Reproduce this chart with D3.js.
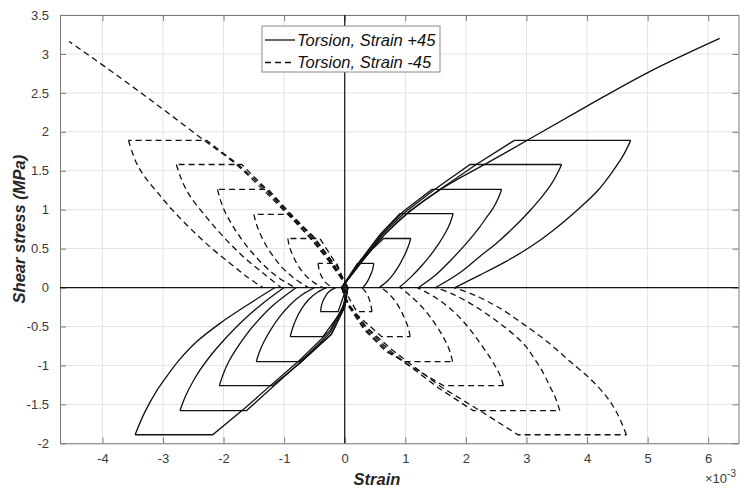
<!DOCTYPE html>
<html>
<head>
<meta charset="utf-8">
<script src="https://cdn.jsdelivr.net/npm/d3@7"></script>
<style>
  body { margin: 0; background: #fff; }
  svg { display: block; font-family: "Liberation Sans", Arial, Helvetica, sans-serif; }
</style>
</head>
<body>
<div id="chart"></div>
<script>
// strain in units of 1e-3, shear stress in MPa
const xTicks = [-4, -3, -2, -1, 0, 1, 2, 3, 4, 5, 6];
const yTicks = [-2, -1.5, -1, -0.5, 0, 0.5, 1, 1.5, 2, 2.5, 3, 3.5];
const seriesNames = ["Torsion, Strain +45", "Torsion, Strain -45"];

// ---- Torsion, Strain +45 (solid) ----
// loading from zero up to the plateau (positive stress)
const p45PosLoad = [
  [[-0.05, 0], [0.21, 0.31]],
  [[-0.05, 0], [0.26, 0.35], [0.64, 0.63]],
  [[-0.05, 0], [0.27, 0.36], [0.58, 0.68], [0.91, 0.95]],
  [[-0.05, 0], [0.28, 0.36], [0.6, 0.68], [0.97, 0.98], [1.44, 1.26]],
  [[-0.05, 0], [0.3, 0.36], [0.62, 0.68], [1.0, 0.97], [1.5, 1.27], [2.07, 1.58]],
  [[-0.05, 0], [0.3, 0.35], [0.65, 0.68], [1.05, 0.97], [1.57, 1.26], [2.17, 1.58], [2.8, 1.89]]
];
// end of plateau then unloading back to zero stress
const p45PosUnload = [
  [[0.48, 0.31], [0.46, 0.23], [0.42, 0.15], [0.37, 0.07], [0.3, 0]],
  [[1.09, 0.63], [1.05, 0.53], [0.99, 0.42], [0.91, 0.3], [0.81, 0.18], [0.7, 0.08], [0.57, 0]],
  [[1.79, 0.95], [1.74, 0.83], [1.66, 0.7], [1.55, 0.56], [1.42, 0.42], [1.27, 0.28], [1.1, 0.14], [0.9, 0]],
  [[2.59, 1.26], [2.53, 1.14], [2.45, 1.02], [2.34, 0.9], [2.23, 0.78], [2.0, 0.56], [1.75, 0.35], [1.5, 0.16], [1.22, 0]],
  [[3.58, 1.58], [3.52, 1.48], [3.42, 1.34], [3.26, 1.17], [3.06, 0.99], [2.8, 0.78], [2.52, 0.58], [2.23, 0.4], [1.9, 0.19], [1.5, 0]],
  [[4.72, 1.89], [4.6, 1.7], [4.43, 1.5], [4.17, 1.24], [3.83, 0.99], [3.45, 0.74], [3.06, 0.52], [2.65, 0.33], [2.23, 0.16], [1.82, 0]]
];
const p45NegLoad = [
  [[0.03, 0], [-0.11, -0.31]],
  [[0.05, 0], [-0.05, -0.3], [-0.36, -0.63]],
  [[0.05, 0], [0, -0.25], [-0.22, -0.6], [-0.74, -0.95]],
  [[0.05, 0], [0, -0.24], [-0.22, -0.6], [-0.72, -0.96], [-1.2, -1.26]],
  [[0.05, 0], [0, -0.22], [-0.24, -0.58], [-0.72, -0.95], [-1.18, -1.27], [-1.62, -1.58]],
  [[0.05, 0], [0, -0.2], [-0.24, -0.55], [-0.74, -0.93], [-1.2, -1.24], [-1.65, -1.55], [-2.18, -1.89]]
];
const p45NegUnload = [
  [[-0.4, -0.31], [-0.38, -0.22], [-0.34, -0.14], [-0.27, -0.06], [-0.15, 0]],
  [[-0.9, -0.63], [-0.86, -0.52], [-0.8, -0.4], [-0.71, -0.27], [-0.59, -0.15], [-0.45, -0.06], [-0.3, 0]],
  [[-1.46, -0.95], [-1.41, -0.83], [-1.33, -0.69], [-1.22, -0.54], [-1.08, -0.38], [-0.9, -0.22], [-0.7, -0.09], [-0.5, 0]],
  [[-2.07, -1.26], [-2.0, -1.1], [-1.92, -0.96], [-1.8, -0.8], [-1.62, -0.6], [-1.45, -0.44], [-1.2, -0.24], [-0.8, 0]],
  [[-2.72, -1.58], [-2.62, -1.38], [-2.5, -1.2], [-2.39, -1.06], [-2.2, -0.86], [-2.0, -0.68], [-1.7, -0.44], [-1.38, -0.22], [-1.0, 0]],
  [[-3.46, -1.89], [-3.3, -1.6], [-3.1, -1.32], [-2.9, -1.1], [-2.72, -0.92], [-2.45, -0.7], [-2.06, -0.46], [-1.6, -0.22], [-1.15, 0]]
];
const p45Final = [[-0.05, 0], [0.3, 0.35], [0.66, 0.68], [1.08, 0.98], [1.62, 1.28], [2.4, 1.62],
  [3.1, 1.93], [4.0, 2.33], [5.05, 2.78], [6.19, 3.2]];

// ---- Torsion, Strain -45 (dashed) ----
const m45PosLoad = [
  [[0.03, 0], [-0.13, 0.31]],
  [[0.05, 0], [-0.18, 0.35], [-0.41, 0.63]],
  [[0.05, 0], [-0.22, 0.35], [-0.52, 0.66], [-0.91, 0.94]],
  [[0.05, 0], [-0.23, 0.35], [-0.54, 0.67], [-0.91, 0.96], [-1.26, 1.26]],
  [[0.05, 0], [-0.24, 0.34], [-0.56, 0.66], [-0.92, 0.96], [-1.3, 1.27], [-1.7, 1.58]],
  [[0.05, 0], [-0.25, 0.33], [-0.58, 0.65], [-0.95, 0.96], [-1.32, 1.27], [-1.76, 1.58], [-2.28, 1.89]]
];
const m45PosUnload = [
  [[-0.44, 0.31], [-0.42, 0.22], [-0.38, 0.14], [-0.31, 0.06], [-0.2, 0]],
  [[-0.94, 0.63], [-0.91, 0.52], [-0.85, 0.4], [-0.76, 0.27], [-0.64, 0.15], [-0.5, 0.06], [-0.36, 0]],
  [[-1.5, 0.94], [-1.46, 0.82], [-1.39, 0.68], [-1.29, 0.53], [-1.16, 0.38], [-1.0, 0.23], [-0.8, 0.1], [-0.6, 0]],
  [[-2.1, 1.26], [-2.05, 1.12], [-1.98, 0.98], [-1.87, 0.82], [-1.72, 0.64], [-1.53, 0.45], [-1.3, 0.26], [-1.08, 0.12], [-0.82, 0]],
  [[-2.78, 1.58], [-2.72, 1.44], [-2.65, 1.31], [-2.55, 1.17], [-2.3, 0.92], [-2.0, 0.65], [-1.68, 0.4], [-1.34, 0.18], [-1.05, 0]],
  [[-3.57, 1.89], [-3.45, 1.62], [-3.3, 1.42], [-3.1, 1.23], [-2.85, 1.0], [-2.55, 0.76], [-2.22, 0.52], [-1.89, 0.31], [-1.6, 0.13], [-1.35, 0]]
];
const m45NegLoad = [
  [[-0.03, 0], [0.2, -0.31]],
  [[-0.05, 0], [0.1, -0.28], [0.61, -0.63]],
  [[-0.05, 0], [0.05, -0.22], [0.32, -0.54], [0.68, -0.82], [0.99, -0.95]],
  [[-0.05, 0], [0.05, -0.22], [0.33, -0.53], [0.7, -0.81], [1.02, -0.98], [1.63, -1.26]],
  [[-0.05, 0], [0.05, -0.21], [0.35, -0.52], [0.73, -0.8], [1.04, -0.99], [1.55, -1.29], [2.12, -1.58]],
  [[-0.05, 0], [0.05, -0.2], [0.35, -0.5], [0.75, -0.78], [1.08, -0.98], [1.6, -1.28], [2.23, -1.58], [2.86, -1.89]]
];
const m45NegUnload = [
  [[0.45, -0.31], [0.43, -0.22], [0.4, -0.14], [0.35, -0.06], [0.28, 0]],
  [[1.08, -0.63], [1.05, -0.52], [0.99, -0.4], [0.91, -0.27], [0.81, -0.15], [0.7, -0.06], [0.6, 0]],
  [[1.78, -0.95], [1.74, -0.83], [1.67, -0.7], [1.57, -0.56], [1.44, -0.41], [1.3, -0.27], [1.12, -0.13], [0.92, 0]],
  [[2.62, -1.26], [2.57, -1.14], [2.5, -1.03], [2.4, -0.9], [2.24, -0.72], [2.05, -0.52], [1.8, -0.31], [1.5, -0.13], [1.2, 0]],
  [[3.55, -1.58], [3.48, -1.42], [3.38, -1.26], [3.28, -1.1], [3.12, -0.9], [2.95, -0.72], [2.56, -0.46], [2.15, -0.24], [1.8, -0.09], [1.5, 0]],
  [[4.65, -1.89], [4.55, -1.7], [4.45, -1.55], [4.32, -1.4], [4.05, -1.17], [3.72, -0.95], [3.35, -0.7], [2.95, -0.47], [2.55, -0.26], [2.15, -0.1], [1.8, 0]]
];
const m45Final = [[0.05, 0], [-0.26, 0.34], [-0.6, 0.66], [-0.98, 0.97], [-1.38, 1.28], [-1.82, 1.6],
  [-2.32, 1.89], [-3.0, 2.29], [-3.75, 2.72], [-4.55, 3.16]];

const W = 740, H = 489;
const margin = {top: 15, right: 1.5, bottom: 45.7, left: 60};
const width = W - margin.left - margin.right,
    height = H - margin.top - margin.bottom;

const x = d3.scaleLinear().domain([-4.7, 6.5]).range([0, width]);
const y = d3.scaleLinear().domain([-2, 3.5]).range([height, 0]);

const svg = d3.select("#chart").append("svg")
    .attr("width", W)
    .attr("height", H);

const g = svg.append("g")
    .attr("transform", "translate(" + margin.left + "," + margin.top + ")");

// grid
g.append("g").selectAll("line").data(xTicks).enter().append("line")
    .attr("x1", d => x(d)).attr("x2", d => x(d))
    .attr("y1", 0).attr("y2", height)
    .attr("stroke", "#e3e3e3").attr("stroke-width", 1);
g.append("g").selectAll("line").data(yTicks).enter().append("line")
    .attr("x1", 0).attr("x2", width)
    .attr("y1", d => y(d)).attr("y2", d => y(d))
    .attr("stroke", "#e3e3e3").attr("stroke-width", 1);

// axes, ticks inside like matlab
const fmt = d => String(d);
const axB = g.append("g").attr("transform", "translate(0," + height + ")")
    .call(d3.axisBottom(x).tickValues(xTicks).tickSizeInner(-6).tickSizeOuter(0).tickPadding(10).tickFormat(fmt));
const axT = g.append("g")
    .call(d3.axisTop(x).tickValues(xTicks).tickSizeInner(-6).tickSizeOuter(0).tickFormat(""));
const axL = g.append("g")
    .call(d3.axisLeft(y).tickValues(yTicks).tickSizeInner(-6).tickSizeOuter(0).tickPadding(11).tickFormat(fmt));
const axR = g.append("g").attr("transform", "translate(" + width + ",0)")
    .call(d3.axisRight(y).tickValues(yTicks).tickSizeInner(-6).tickSizeOuter(0).tickFormat(""));
[axB, axT, axL, axR].forEach(a => {
  a.select(".domain").attr("stroke", "#7a7a7a").attr("stroke-width", 1);
  a.selectAll(".tick line").attr("stroke", "#7a7a7a");
  a.selectAll("text").attr("fill", "#3a3a3a").style("font-size", "13px")
      .style("font-family", "'Liberation Sans', Arial, sans-serif");
});

// zero lines
g.append("line").attr("x1", x(0)).attr("x2", x(0)).attr("y1", 0).attr("y2", height)
    .attr("stroke", "#111").attr("stroke-width", 1.2);
g.append("line").attr("x1", 0).attr("x2", width).attr("y1", y(0)).attr("y2", y(0))
    .attr("stroke", "#111").attr("stroke-width", 1.2);

const straight = d3.line().x(d => x(d[0])).y(d => y(d[1]));
const curved = d3.line().x(d => x(d[0])).y(d => y(d[1])).curve(d3.curveCatmullRom.alpha(0.5));

function drawSeries(loads, unloads, dash) {
  loads.forEach((ld, i) => {
    const un = unloads[i];
    // loading + creep plateau
    g.append("path").attr("d", straight(ld.concat([un[0]])))
        .attr("fill", "none").attr("stroke", "#111").attr("stroke-width", 1.3)
        .attr("stroke-dasharray", dash);
    // unloading curve
    g.append("path").attr("d", curved(un))
        .attr("fill", "none").attr("stroke", "#111").attr("stroke-width", 1.3)
        .attr("stroke-dasharray", dash);
  });
}

drawSeries(p45PosLoad, p45PosUnload, null);
drawSeries(p45NegLoad, p45NegUnload, null);
drawSeries(m45PosLoad, m45PosUnload, "6,4");
drawSeries(m45NegLoad, m45NegUnload, "6,4");

g.append("path").attr("d", curved(p45Final))
    .attr("fill", "none").attr("stroke", "#111").attr("stroke-width", 1.3);
g.append("path").attr("d", curved(m45Final))
    .attr("fill", "none").attr("stroke", "#111").attr("stroke-width", 1.3)
    .attr("stroke-dasharray", "6,4");

// legend
const leg = svg.append("g").attr("transform", "translate(262,26)");
leg.append("rect").attr("width", 178).attr("height", 46)
    .attr("fill", "#fff").attr("stroke", "#8a8a8a").attr("stroke-width", 1);
seriesNames.forEach((name, i) => {
  const yy = 14 + i * 22.5;
  leg.append("line").attr("x1", 3).attr("x2", 33).attr("y1", yy).attr("y2", yy)
      .attr("stroke", "#111").attr("stroke-width", 1.3)
      .attr("stroke-dasharray", i === 0 ? null : "6,4");
  leg.append("text").attr("x", 35).attr("y", yy).attr("dy", "0.35em")
      .style("font-size", "16.5px").style("font-style", "italic").attr("fill", "#111")
      .text(name);
});

// axis labels
svg.append("text")
    .attr("x", 377).attr("y", 485)
    .attr("text-anchor", "middle")
    .style("font-size", "16.5px").style("font-weight", "bold").style("font-style", "italic")
    .attr("fill", "#262626")
    .text("Strain");
svg.append("text")
    .attr("transform", "translate(25," + (margin.top + height / 2) + ") rotate(-90)")
    .attr("text-anchor", "middle")
    .style("font-size", "16.5px").style("font-weight", "bold").style("font-style", "italic")
    .attr("fill", "#262626")
    .text("Shear stress (MPa)");

// exponent label
const ex = svg.append("text").attr("x", 705).attr("y", 483)
    .style("font-size", "13px").attr("fill", "#3a3a3a");
ex.append("tspan").text("\u00d710");
ex.append("tspan").attr("dy", -6).style("font-size", "10px").text("-3");
</script>
</body>
</html>
